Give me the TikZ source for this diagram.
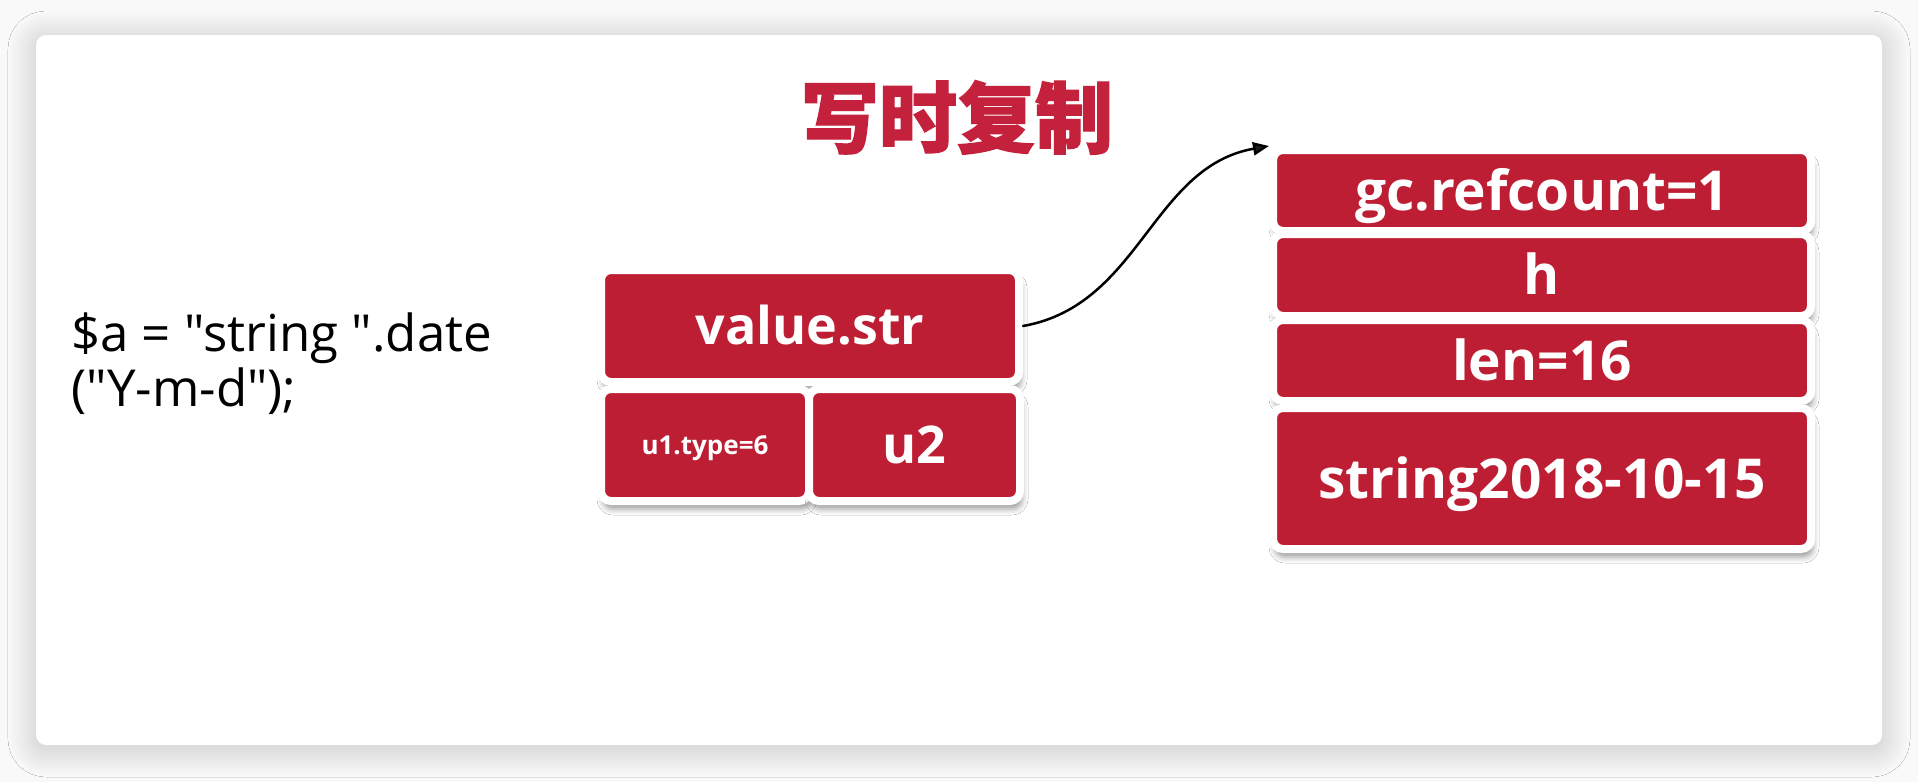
\documentclass[tikz,border=0pt]{standalone}
\usepackage{fontspec}
\setmainfont{Open Sans}
\newfontfamily\codefont{Open Sans}[Ligatures=TeXOff]
\newfontfamily\cjk{Noto Sans CJK SC}[BoldFeatures={FakeBold=1.6}]
\usetikzlibrary{arrows.meta,shadows.blur}

\definecolor{cellred}{RGB}{190,30,52}
\definecolor{titlered}{RGB}{196,34,60}
\definecolor{pagebg}{RGB}{249,249,249}

\tikzset{
  cell/.style={rectangle, rounded corners=10pt, fill=cellred, draw=white,
    line width=8pt, text=white, inner sep=0pt,
    font=\bfseries\fontsize{52}{60}\selectfont,
    text height=37pt, text depth=0pt,
    blur shadow={shadow xshift=2pt, shadow yshift=-8pt,
      shadow blur radius=6pt, shadow opacity=40}},
  widecell/.style={cell, font=\bfseries\fontsize{55}{60}\selectfont,
    text height=39pt},
  smallcell/.style={cell, font=\bfseries\fontsize{26}{30}\selectfont,
    text height=18.5pt},
  codeline/.style={anchor=base west, inner sep=0pt,
    font=\codefont\fontsize{51}{55}\selectfont},
  pointer/.style={-{Triangle[length=16pt,width=13pt]}, line width=2.5pt,
    line cap=round},
}

\begin{document}
\begin{tikzpicture}[x=1pt,y=-1pt]
  \useasboundingbox (0,0) rectangle (1918,782);
  % page and card
  \fill[pagebg] (0,0) rectangle (1918,782);
  \fill[white, rounded corners=10pt,
    blur shadow={shadow xshift=0pt, shadow yshift=-4pt,
      shadow blur radius=28pt, shadow blur steps=30, shadow opacity=22}]
    (36,35) rectangle (1882,745);

  % title
  \node[anchor=base, inner sep=0pt, text=titlered,
    font=\cjk\bfseries\fontsize{78}{80}\selectfont] (title) at (957,147) {写时复制};

  % source line
  \node[codeline] (code1) at (71,351) {\$a = "string ".date};
  \node[codeline] (code2) at (71,406) {("Y-m-d");};

  % zval
  \node[cell, minimum width=418pt, minimum height=112pt] (vs) at (810,326) {value.str};
  \node[smallcell, minimum width=208pt, minimum height=112pt] (u1) at (705,445) {u1.type=6};
  \node[cell, minimum width=211pt, minimum height=112pt] (u2) at (914.5,445) {u2};

  % zend_string
  \node[widecell, minimum width=538pt, minimum height=81pt] (gc) at (1542,190.5) {gc.refcount=1};
  \node[widecell, minimum width=538pt, minimum height=82pt] (h) at (1542,275) {h};
  \node[widecell, minimum width=538pt, minimum height=81pt] (len) at (1542,360.5) {len=16};
  \node[widecell, minimum width=538pt, minimum height=141pt] (val) at (1542,478.5) {string2018-10-15};

  % pointer from value.str to the string
  \draw[pointer] (vs.east) to[out=10,in=190] (gc.north west);
\end{tikzpicture}
\end{document}
